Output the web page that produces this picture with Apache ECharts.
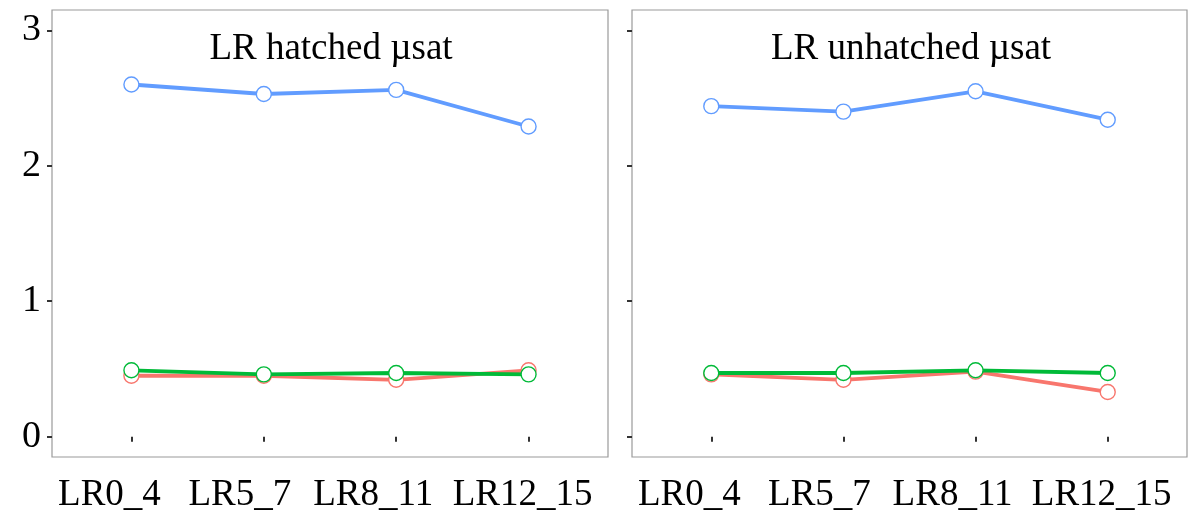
<!DOCTYPE html>
<html>
<head>
<meta charset="utf-8">
<script src="https://cdn.jsdelivr.net/npm/echarts@6/dist/echarts.min.js"></script>
<style>html,body{margin:0;padding:0;background:#fff;}#c{width:1188px;height:517px;}</style>
</head>
<body>
<div id="c"></div>
<script>
const categories = ['LR0_4', 'LR5_7', 'LR8_11', 'LR12_15'];
const panelTitles = ['LR hatched µsat', 'LR unhatched µsat'];
const yTicks = [0, 1, 2, 3];
// left panel
const hatchedRed = [0.45, 0.45, 0.42, 0.49];
const hatchedGreen = [0.49, 0.46, 0.47, 0.46];
const hatchedBlue = [2.60, 2.53, 2.56, 2.29];
// right panel
const unhatchedRed = [0.46, 0.42, 0.48, 0.33];
const unhatchedGreen = [0.47, 0.47, 0.49, 0.47];
const unhatchedBlue = [2.44, 2.40, 2.55, 2.34];

const FONT = 'Liberation Serif';
const colors = { red: '#F8766D', green: '#00BA38', blue: '#619CFF' };
const xPos = categories.map((_, i) => i + 1);
// labels in the reference sit slightly left of their ticks
const labelShift = [44, 48, 46, 12];

function pts(vals) { return vals.map((v, i) => [xPos[i], v]); }

function series(vals, color, idx, z) {
  return {
    type: 'line', xAxisIndex: idx, yAxisIndex: idx, data: pts(vals),
    symbol: 'circle', symbolSize: 15, z: z,
    lineStyle: { color: color, width: 3.8 },
    itemStyle: { color: '#fff', borderColor: color, borderWidth: 1.4 },
    emphasis: { disabled: true }, animation: false
  };
}

const grids = [
  { left: 52, top: 10, width: 556, height: 447 },
  { left: 632, top: 10, width: 555, height: 447 }
].map(g => Object.assign(g, { show: true, borderColor: '#9a9a9a', borderWidth: 1.2, backgroundColor: '#fff' }));

const rich = {};
labelShift.forEach((p, i) => {
  rich['r' + i] = { fontFamily: FONT, fontSize: 37, color: '#000', padding: [0, p, 0, 0] };
});

function xAxis(idx) {
  return {
    type: 'value', gridIndex: idx, min: 0.4, max: 4.6,
    axisLine: { show: false }, splitLine: { show: false },
    axisTick: { show: true, length: 5, customValues: xPos, lineStyle: { color: '#333', width: 2 } },
    axisLabel: { customValues: xPos, margin: 20, fontFamily: FONT, fontSize: 37, color: '#000',
      hideOverlap: false, rich: rich,
      formatter: v => { const i = Math.round(v) - 1; return categories[i] ? '{r' + i + '|' + categories[i] + '}' : ''; } }
  };
}
function yAxis(idx, showLabels) {
  return {
    type: 'value', gridIndex: idx, min: -0.15, max: 3.15,
    axisLine: { show: false }, splitLine: { show: false },
    axisTick: { show: true, length: 5, customValues: yTicks, lineStyle: { color: '#333', width: 2 } },
    axisLabel: { show: showLabels, customValues: yTicks, margin: 11, fontFamily: FONT, fontSize: 38, color: '#000' }
  };
}

const chart = echarts.init(document.getElementById('c'), null, { renderer: 'canvas' });
chart.setOption({
  backgroundColor: '#fff',
  animation: false,
  title: [
    { text: panelTitles[0], left: 326, top: 26, textAlign: 'center',
      textStyle: { fontFamily: FONT, fontSize: 37, fontWeight: 'normal', color: '#000' } },
    { text: panelTitles[1], left: 906, top: 26, textAlign: 'center',
      textStyle: { fontFamily: FONT, fontSize: 37, fontWeight: 'normal', color: '#000' } }
  ],
  grid: grids,
  xAxis: [xAxis(0), xAxis(1)],
  yAxis: [yAxis(0, true), yAxis(1, false)],
  series: [
    series(hatchedRed, colors.red, 0, 2),
    series(hatchedGreen, colors.green, 0, 3),
    series(hatchedBlue, colors.blue, 0, 4),
    series(unhatchedRed, colors.red, 1, 2),
    series(unhatchedGreen, colors.green, 1, 3),
    series(unhatchedBlue, colors.blue, 1, 4)
  ]
});
</script>
</body>
</html>
